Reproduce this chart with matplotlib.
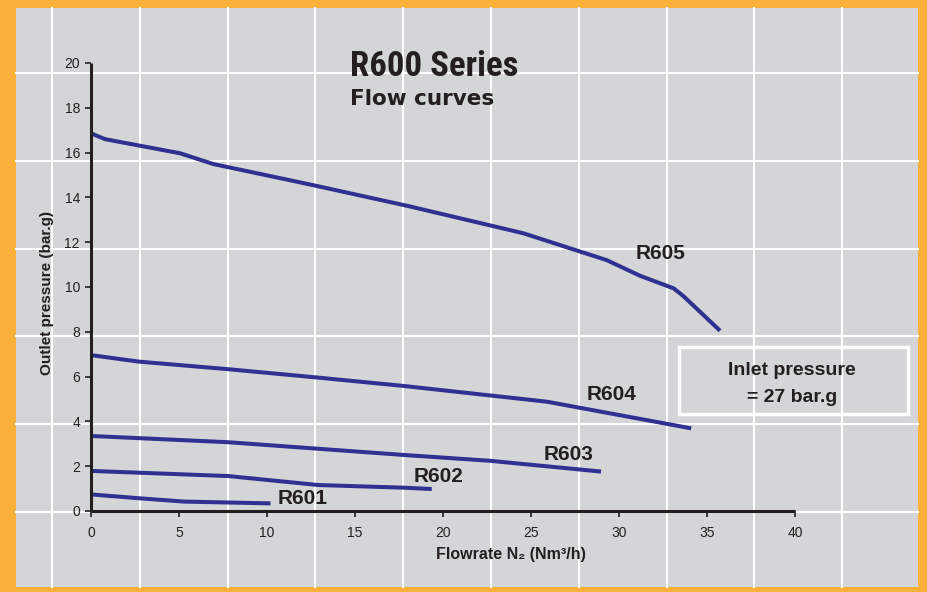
import matplotlib
matplotlib.use('Agg')
import matplotlib.pyplot as plt
from matplotlib import font_manager
from matplotlib.patches import Rectangle
import numpy as np

plt.rcParams['font.family'] = ['Liberation Sans', 'DejaVu Sans']

# flow curves (x: Nm3/h, y: bar.g)
r605_x = [0, 0.8, 5.06, 6.95, 12.6, 18.1, 24.56, 29.3, 31.2, 33.1, 33.65, 35.74]
r605_y = [16.86, 16.6, 15.97, 15.49, 14.55, 13.6, 12.4, 11.2, 10.5, 9.94, 9.6, 8.05]
r604_x = [0, 2.7, 7.8, 12.7, 17.8, 25.9, 34.1]
r604_y = [6.96, 6.67, 6.33, 5.97, 5.58, 4.88, 3.69]
r603_x = [0, 7.8, 17.8, 22.7, 28.98]
r603_y = [3.35, 3.07, 2.5, 2.24, 1.76]
r602_x = [0, 7.8, 12.9, 17.8, 19.36]
r602_y = [1.79, 1.56, 1.16, 1.04, 0.98]
r601_x = [0, 2.7, 5.3, 10.2]
r601_y = [0.74, 0.57, 0.42, 0.34]

curve_names = ['R605', 'R604', 'R603', 'R602', 'R601']
label_x = [32.36, 29.55, 27.16, 19.75, 12.0]
label_y = [11.25, 4.96, 2.28, 1.31, 0.31]

x_ticks = [0, 5, 10, 15, 20, 25, 30, 35, 40]
y_ticks = [0, 2, 4, 6, 8, 10, 12, 14, 16, 18, 20]

ORANGE = '#FBB03B'
GREY = '#D4D5D7'
BLUE = '#2E3192'
INK = '#231F20'

# pick a narrow face for the big title if one is around
names = {f.name for f in font_manager.fontManager.ttflist}
narrow = [n for n in ['Liberation Sans Narrow', 'Roboto Condensed', 'Open Sans Condensed']
          if n in names]
if narrow:
    title_font = dict(family=narrow[0], fontsize=25)
else:
    title_font = dict(family='Liberation Sans', fontsize=21)

W, H = 928, 592
fig = plt.figure(figsize=(W / 100, H / 100), dpi=100, facecolor=ORANGE)

# background panel in pixel coords
bg = fig.add_axes([0, 0, 1, 1])
bg.set_xlim(0, W)
bg.set_ylim(H, 0)
bg.axis('off')
bg.add_patch(Rectangle((16, 8), 902, 579, color=GREY, lw=0))
for gx in np.arange(52, 918, 87.8):
    bg.plot([gx, gx], [8, 587], color='white', lw=1.5)
for gy in np.arange(73, 587, 87.8):
    bg.plot([16, 918], [gy, gy], color='white', lw=1.5)

# inlet pressure box
bg.add_patch(Rectangle((679, 347), 229, 67, fill=False, ec='white', lw=2.5))
bg.text(792, 375, 'Inlet pressure', ha='center', va='baseline', fontsize=14,
        fontweight='bold', color=INK)
bg.text(792, 402, '= 27 bar.g', ha='center', va='baseline', fontsize=14,
        fontweight='bold', color=INK)

# titles
bg.text(350, 76, 'R600 Series', ha='left', va='baseline', fontweight='bold',
        color=INK, **title_font)
bg.text(350, 105, 'Flow curves', ha='left', va='baseline', fontsize=15.5, fontweight='bold',
        family='DejaVu Sans', color=INK)

# axis labels
bg.text(47, 293, 'Outlet pressure (bar.g)', rotation=90, ha='center', va='center',
        fontsize=11, fontweight='bold', color=INK)
bg.text(511, 555, 'Flowrate N\u2082 (Nm\u00b3/h)', ha='center', va='center',
        fontsize=11.5, fontweight='bold', color=INK)

# main chart
ax = fig.add_axes([91 / W, 1 - 511 / H, 704 / W, 448 / H])
ax.patch.set_alpha(0)
ax.set_xlim(0, 40)
ax.set_ylim(0, 20)
for side in ['top', 'right']:
    ax.spines[side].set_visible(False)
for side in ['left', 'bottom']:
    ax.spines[side].set_linewidth(2.2)
    ax.spines[side].set_color(INK)
    ax.spines[side].set_capstyle('butt')
ax.set_xticks(x_ticks)
ax.set_yticks(y_ticks)
ax.tick_params(direction='out', length=4.5, width=1.2, color=INK, labelsize=10,
               labelcolor=INK, pad=3.5)
ax.tick_params(axis='x', pad=6)

curves = [(r605_x, r605_y), (r604_x, r604_y), (r603_x, r603_y),
          (r602_x, r602_y), (r601_x, r601_y)]
for (xs, ys), name, lx, ly in zip(curves, curve_names, label_x, label_y):
    ax.plot(xs, ys, color=BLUE, lw=2.9, solid_capstyle='butt', solid_joinstyle='round',
            clip_on=False)
    ax.text(lx, ly, name, ha='center', va='baseline', fontsize=15, fontweight='bold',
            color=INK)

fig.savefig('out.png', dpi=100, facecolor=ORANGE)
